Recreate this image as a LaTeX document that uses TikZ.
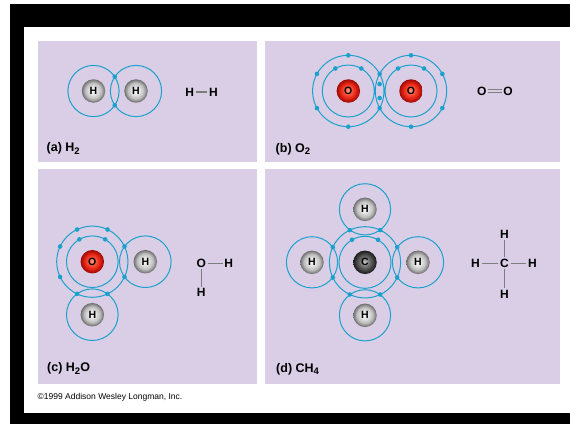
\documentclass[tikz,border=0pt]{standalone}
\usepackage{fontspec}
\setmainfont{Liberation Sans}
\setsansfont{Liberation Sans}

\definecolor{panelbg}{RGB}{217,206,229}
\definecolor{shellblue}{RGB}{28,160,205}
\definecolor{bondgray}{RGB}{125,125,125}

% nucleus shadings: light glow behind the letter, darker rim
\pgfdeclareradialshading{hydrogenball}{\pgfpoint{-1bp}{1bp}}{%
  rgb(0bp)=(0.97,0.97,0.97); rgb(8bp)=(0.90,0.90,0.90);
  rgb(17bp)=(0.74,0.74,0.74); rgb(25bp)=(0.42,0.42,0.42); rgb(50bp)=(0.42,0.42,0.42)}
\pgfdeclareradialshading{oxygenball}{\pgfpoint{-1bp}{1bp}}{%
  rgb(0bp)=(1.00,0.62,0.52); rgb(7bp)=(0.98,0.36,0.26);
  rgb(16bp)=(0.90,0.14,0.08); rgb(25bp)=(0.60,0.03,0.02); rgb(50bp)=(0.60,0.03,0.02)}
\pgfdeclareradialshading{carbonball}{\pgfpoint{-1bp}{1bp}}{%
  rgb(0bp)=(0.78,0.78,0.78); rgb(7bp)=(0.52,0.52,0.52);
  rgb(16bp)=(0.30,0.30,0.30); rgb(25bp)=(0.10,0.10,0.10); rgb(50bp)=(0.10,0.10,0.10)}

\newcommand{\chemsub}[1]{\raisebox{-2.6pt}{\fontsize{9.5}{9.5}\selectfont #1}}

\tikzset{
  panel/.style={fill=panelbg},
  shell/.style={draw=shellblue, line width=1pt},
  electron/.style={fill=shellblue},
  nucleus/.style={circle, minimum size=23.5pt, inner sep=0pt, shade,
    font=\bfseries\fontsize{10.5}{10.5}\selectfont},
  hnuc/.style={nucleus, shading=hydrogenball},
  onuc/.style={nucleus, shading=oxygenball},
  cnuc/.style={nucleus, shading=carbonball},
  atomsym/.style={inner sep=1.6pt, font=\bfseries\fontsize{12}{12}\selectfont},
  bond/.style={draw=bondgray, line width=1.2pt},
  dbond/.style={draw=bondgray, line width=0.9pt, double=panelbg, double distance=1.6pt},
  caption/.style={anchor=base west, inner sep=0pt, font=\bfseries\fontsize{12.5}{12.5}\selectfont},
  credit/.style={anchor=west, inner sep=0pt, font=\fontsize{8.5}{8.5}\selectfont}
}

\begin{document}
\begin{tikzpicture}[x=1pt,y=-1pt]
\useasboundingbox (0,0) rectangle (570,424);
\fill[white] (0,0) rectangle (570,424);

% black frame bars
\fill[black] (10,4) rectangle (570,27);
\fill[black] (10,4) rectangle (24,424);
\fill[black] (10,413) rectangle (570,424);

% four panels
\fill[panel] (38,41) rectangle (257,162);
\fill[panel] (265,41) rectangle (560,162);
\fill[panel] (38,169) rectangle (257,384);
\fill[panel] (265,169) rectangle (560,384);

% ---------- (a) H2 ----------
\node[hnuc] (a1) at (93.5,91) {H};
\node[hnuc] (a2) at (136,91) {H};
\draw[shell] (a1.center) circle[radius=25.6pt] (a2.center) circle[radius=25.6pt];
\foreach \a in {33.9,-33.9}
  \fill[electron] (a1.center) ++(\a:25.6pt) circle[radius=2.3pt];
\node[atomsym] (fa1) at (189.8,92) {H};
\node[atomsym] (fa2) at (213.5,92) {H};
\draw[bond] (fa1) -- (fa2);
\node[caption] (capa) at (46.5,151.5) {(a) H\chemsub{2}};

% ---------- (b) O2 ----------
\node[onuc] (b1) at (348.3,91) {O};
\node[onuc] (b2) at (411,91) {O};
\draw[shell] (b1.center) circle[radius=35.7pt] (b1.center) circle[radius=26pt]
             (b2.center) circle[radius=35.7pt] (b2.center) circle[radius=26pt];
\foreach \a in {90,151.4,208.6,270,28.6,-28.6}
  \fill[electron] (b1.center) ++(\a:35.7pt) circle[radius=2.3pt];
\foreach \a in {90,270,28.6,-28.6}
  \fill[electron] (b2.center) ++(\a:35.7pt) circle[radius=2.3pt];
\foreach \a in {60,120} {
  \fill[electron] (b1.center) ++(\a:26pt) circle[radius=2.3pt];
  \fill[electron] (b2.center) ++(\a:26pt) circle[radius=2.3pt];
}
\fill[electron] (b1.center) ++(31.35,7) circle[radius=2.3pt];
\fill[electron] (b1.center) ++(31.35,-7) circle[radius=2.3pt];
\node[atomsym] (fb1) at (481.7,91) {O};
\node[atomsym] (fb2) at (508,91) {O};
\draw[dbond] (fb1) -- (fb2);
\node[caption] (capb) at (275.5,152.3) {(b) O\chemsub{2}};

% ---------- (c) H2O ----------
\node[onuc] (c0) at (92.3,261.7) {O};
\node[hnuc] (c1) at (145.3,261.7) {H};
\node[hnuc] (c2) at (92.3,314.7) {H};
\draw[shell] (c0.center) circle[radius=35.6pt] (c0.center) circle[radius=25.8pt]
             (c1.center) circle[radius=25.8pt] (c2.center) circle[radius=25.8pt];
\foreach \a in {-25.3,25.3,64.7,115.3,154.7,205.3,244.7,295.3}
  \fill[electron] (c0.center) ++(\a:35.6pt) circle[radius=2.3pt];
\foreach \a in {60,120}
  \fill[electron] (c0.center) ++(\a:25.8pt) circle[radius=2.3pt];
\node[atomsym] (fc0) at (201.2,263.3) {O};
\node[atomsym] (fc1) at (228.8,263.3) {H};
\node[atomsym] (fc2) at (201.2,292.7) {H};
\draw[bond] (fc0) -- (fc1);
\draw[bond] (fc0) -- (fc2);
\node[caption] (capc) at (47,371.8) {(c) H\chemsub{2}O};

% ---------- (d) CH4 ----------
\node[cnuc] (d0) at (365,262.3) {C};
\node[hnuc] (d1) at (365,209.3) {H};
\node[hnuc] (d2) at (418,262.3) {H};
\node[hnuc] (d3) at (365,315.3) {H};
\node[hnuc] (d4) at (312,262.3) {H};
\draw[shell] (d0.center) circle[radius=35.6pt] (d0.center) circle[radius=26pt];
\foreach \n in {d1,d2,d3,d4}
  \draw[shell] (\n.center) circle[radius=25.6pt];
\foreach \a in {-25.3,25.3,64.7,115.3,154.7,205.3,244.7,295.3}
  \fill[electron] (d0.center) ++(\a:35.6pt) circle[radius=2.3pt];
\foreach \a in {60,120}
  \fill[electron] (d0.center) ++(\a:26pt) circle[radius=2.3pt];
\node[atomsym] (fd0) at (504.5,263.3) {C};
\node[atomsym] (fd1) at (504.5,234.2) {H};
\node[atomsym] (fd2) at (532.5,263.3) {H};
\node[atomsym] (fd3) at (504.5,294.2) {H};
\node[atomsym] (fd4) at (475.5,263.3) {H};
\foreach \n in {fd1,fd2,fd3,fd4}
  \draw[bond] (fd0) -- (\n);
\node[caption] (capd) at (276,372.3) {(d) CH\chemsub{4}};

% publisher credit
\node[credit] (credit) at (37.5,397.5) {©1999 Addison Wesley Longman, Inc.};
\end{tikzpicture}
\end{document}
